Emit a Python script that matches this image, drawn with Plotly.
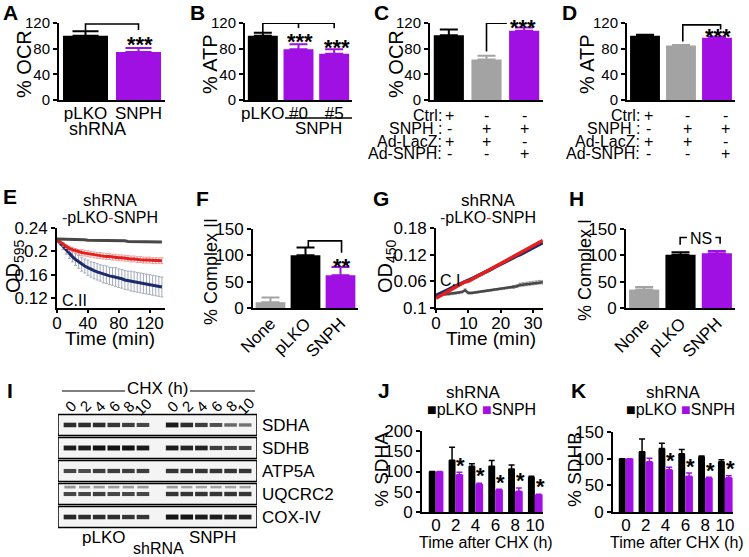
import plotly.graph_objects as go

W, H = 749, 557
FONT = "Liberation Sans, Arial, sans-serif"
BFONT = "Liberation Sans, Arial, sans-serif"
BLK = "#000000"
PUR = "#a010e2"
GRY = "#a3a3a3"
NAVY = "#1d2b6e"
RED = "#e3201b"
DGR = "#474747"

# ---------------- data ----------------
A_labels = ["pLKO", "SNPH"]
A_ocr = [100, 75]
A_err = [7, 6]

B_labels = ["pLKO", "#0", "#5"]
B_atp = [100, 79, 72]
B_err = [5, 8, 7]

C_ocr = [101, 63, 108]
C_err = [9, 6, 5]

D_atp = [100, 85, 97]
D_err = [1.5, 0.8, 1.5]

cond_names = ["Ctrl:", "SNPH :", "Ad-LacZ:", "Ad-SNPH:"]
cond_signs = [["+", "-", "-"], ["-", "+", "+"], ["+", "+", "-"], ["-", "-", "+"]]

E_time = [0, 4, 8, 12, 16, 20, 24, 28, 32, 36, 40, 44, 48, 52, 56, 60, 64, 68, 72, 76,
          80, 84, 88, 92, 96, 100, 104, 108, 112, 116, 120, 124, 128, 132, 136]
E_plko = [0.220, 0.214, 0.208, 0.202, 0.196, 0.191, 0.186, 0.182, 0.178, 0.175,
          0.172, 0.169, 0.167, 0.165, 0.163, 0.161, 0.160, 0.158, 0.157, 0.156,
          0.154, 0.153, 0.151, 0.150, 0.149, 0.148, 0.147, 0.146, 0.145, 0.144,
          0.143, 0.142, 0.141, 0.140, 0.139]
E_plko_err = [0.0, 0.003, 0.005, 0.007, 0.008, 0.009, 0.010, 0.011, 0.012, 0.012,
              0.013, 0.013, 0.014, 0.014, 0.014, 0.015, 0.015, 0.015, 0.015, 0.016,
              0.016, 0.016, 0.016, 0.016, 0.017, 0.017, 0.017, 0.017, 0.017, 0.017,
              0.017, 0.017, 0.017, 0.017, 0.017]
E_snph = [0.220, 0.216, 0.212, 0.208, 0.205, 0.203, 0.201, 0.199, 0.198, 0.197,
          0.196, 0.195, 0.194, 0.193, 0.193, 0.192, 0.191, 0.191, 0.190, 0.190,
          0.189, 0.189, 0.188, 0.188, 0.187, 0.187, 0.186, 0.186, 0.185, 0.185,
          0.185, 0.184, 0.184, 0.184, 0.184]
E_snph_err = [0.0, 0.002, 0.003, 0.003, 0.004, 0.004, 0.004, 0.004, 0.005, 0.005,
              0.005, 0.005, 0.005, 0.005, 0.005, 0.005, 0.005, 0.005, 0.005, 0.005,
              0.005, 0.005, 0.005, 0.005, 0.005, 0.005, 0.005, 0.005, 0.005, 0.005,
              0.005, 0.005, 0.005, 0.005, 0.005]
E_none = [0.221, 0.221, 0.221, 0.221, 0.220, 0.220, 0.220, 0.220, 0.220, 0.220,
          0.219, 0.219, 0.219, 0.219, 0.219, 0.219, 0.218, 0.218, 0.218, 0.218,
          0.218, 0.218, 0.218, 0.217, 0.217, 0.217, 0.217, 0.217, 0.217, 0.217,
          0.216, 0.216, 0.216, 0.216, 0.216]

F_labels = ["None", "pLKO", "SNPH"]
F_vals = [11, 100, 62]
F_err = [9, 15, 16]

G_time = [0, 1, 2, 3, 4, 5, 6, 7, 8, 9, 10, 11, 12, 13, 14, 15, 16, 17, 18, 19, 20,
          21, 22, 23, 24, 25, 26, 27, 28, 29, 30, 31, 32, 33]
G_plko = [0.028, 0.031, 0.035, 0.038, 0.042, 0.046, 0.049, 0.053, 0.056, 0.060,
          0.062, 0.065, 0.069, 0.073, 0.076, 0.080, 0.084, 0.087, 0.091, 0.095,
          0.098, 0.102, 0.106, 0.109, 0.113, 0.117, 0.120, 0.124, 0.128, 0.132,
          0.135, 0.139, 0.143, 0.147]
G_snph = [0.022, 0.026, 0.030, 0.034, 0.038, 0.042, 0.046, 0.050, 0.054, 0.059,
          0.060, 0.064, 0.068, 0.072, 0.076, 0.080, 0.084, 0.088, 0.092, 0.096,
          0.100, 0.103, 0.107, 0.111, 0.115, 0.119, 0.123, 0.127, 0.131, 0.135,
          0.139, 0.143, 0.147, 0.152]
G_none = [0.028, 0.029, 0.030, 0.031, 0.031, 0.032, 0.033, 0.034, 0.036, 0.040,
          0.034, 0.034, 0.035, 0.036, 0.037, 0.038, 0.039, 0.040, 0.041, 0.042,
          0.043, 0.044, 0.045, 0.046, 0.047, 0.049, 0.052, 0.053, 0.054, 0.055,
          0.056, 0.057, 0.058, 0.058]
G_none_err = [0.002, 0.002, 0.002, 0.002, 0.002, 0.002, 0.002, 0.002, 0.002, 0.003,
              0.002, 0.002, 0.002, 0.002, 0.002, 0.002, 0.002, 0.002, 0.002, 0.002,
              0.002, 0.002, 0.002, 0.002, 0.003, 0.003, 0.004, 0.004, 0.004, 0.004,
              0.004, 0.004, 0.004, 0.004]

H_vals = [35, 101, 104]
H_err = [5, 5, 4]

blot_lanes = ["0", "2", "4", "6", "8", "10", "0", "2", "4", "6", "8", "10"]
blot_proteins = ["SDHA", "SDHB", "ATP5A", "UQCRC2", "COX-IV"]
blot_SDHA = [0.85, 0.85, 0.85, 0.80, 0.75, 0.70, 0.95, 0.85, 0.75, 0.65, 0.50, 0.45]
blot_SDHB = [0.95, 0.95, 1.00, 1.00, 1.00, 0.95, 0.95, 0.90, 0.90, 0.75, 0.70, 0.70]
blot_ATP5A = [0.70, 0.65, 0.75, 0.75, 0.75, 0.75, 0.80, 0.80, 0.80, 0.80, 0.80, 0.80]
blot_UQCRC2 = [0.70, 0.70, 0.75, 0.70, 0.70, 0.70, 0.80, 0.80, 0.80, 0.80, 0.80, 0.80]
blot_UQCRC2_upper = [0.25, 0.20, 0.20, 0.20, 0.20, 0.20, 0.20, 0.15, 0.15, 0.15, 0.15, 0.15]
blot_COXIV = [0.90, 0.85, 0.85, 0.85, 0.80, 0.80, 1.00, 1.00, 0.95, 0.95, 0.90, 0.90]

J_hours = [0, 2, 4, 6, 8, 10]
J_plko = [100, 128, 113, 113, 106, 86]
J_plko_err = [0, 32, 6, 14, 10, 2]
J_snph = [100, 92, 69, 55, 51, 43]
J_snph_err = [0, 6, 2, 1, 8, 1]
J_sig = ["", "*", "*", "*", "*", "*"]

K_plko = [100, 113, 119, 109, 104, 94]
K_plko_err = [0, 24, 10, 8, 1, 4]
K_snph = [100, 94, 79, 67, 64, 64]
K_snph_err = [0, 7, 5, 6, 1, 4]
K_sig = ["", "", "*", "*", "*", "*"]

# ---------------- helpers ----------------
fig = go.Figure()
layout_axes = {}
annots = []
shapes = []


def px(x):
    return x / W


def py(y):
    return 1 - y / H


def new_axes(n, xdom, ydom, xr, yr, xkw=None, ykw=None, tsize=16):
    sfx = "" if n == 1 else str(n)
    base = dict(showline=True, linecolor=BLK, linewidth=2, showgrid=False,
                zeroline=False, fixedrange=True, automargin=False,
                tickfont=dict(family=FONT, size=tsize, color=BLK))
    xa = dict(base, domain=[px(xdom[0]), px(xdom[1])], range=xr, anchor="y" + sfx,
              ticks="", tickangle=0, ticklabelstandoff=-3)
    ya = dict(base, domain=[py(ydom[1]), py(ydom[0])], range=yr, anchor="x" + sfx,
              ticks="outside", ticklen=4, tickwidth=2, tickcolor=BLK)
    if xkw:
        xa.update(xkw)
    if ykw:
        ya.update(ykw)
    layout_axes["xaxis" + sfx] = xa
    layout_axes["yaxis" + sfx] = ya
    return "x" + sfx, "y" + sfx


def text(x, y, s, size=17, xanchor="center", yanchor="middle", angle=0, bold=False,
         xref="paper", yref="paper", color=BLK, family=FONT):
    if bold:
        s = "<b>" + s + "</b>"
    annots.append(dict(x=px(x) if xref == "paper" else x,
                       y=py(y) if yref == "paper" else y,
                       xref=xref, yref=yref, text=s, showarrow=False,
                       xanchor=xanchor, yanchor=yanchor, textangle=angle,
                       font=dict(family=family, size=size, color=color)))


def letter(x, y, s):
    text(x, y, s, size=21, bold=True, family=BFONT)


def stars(x, y, s):
    text(x, y, s, size=22, bold=True, family=BFONT)


def bars(xa, ya, vals, errs, colors, width, capw):
    for i, (v, e, c) in enumerate(zip(vals, errs, colors)):
        fig.add_trace(go.Bar(x=[i], y=[v], width=width, marker=dict(color=c, line=dict(width=0)),
                             error_y=dict(type="data", symmetric=False, array=[e], arrayminus=[0],
                                          color=c, thickness=2, width=capw),
                             xaxis=xa, yaxis=ya, hoverinfo="skip"))


def bracket(xa, ya, xs, ys):
    fig.add_trace(go.Scatter(x=xs, y=ys, mode="lines", line=dict(color=BLK, width=1.6),
                             xaxis=xa, yaxis=ya, hoverinfo="skip", cliponaxis=False))


ytick120 = dict(tickvals=[0, 40, 80, 120])
cat_font = dict(family=FONT, size=17, color=BLK)

# ---------------- A ----------------
xa, ya = new_axes(1, (59, 165), (23, 100), [-0.5, 1.5], [0, 120],
                  dict(tickvals=[0, 1], ticktext=A_labels, tickfont=cat_font), ytick120, tsize=15)
bars(xa, ya, A_ocr, A_err, [BLK, PUR], 0.85, 13)
bracket(xa, ya, [0, 0, 1, 1], [108, 118.4, 118.4, 109])
stars(140, 45, "***")
letter(10, 12, "A")
text(24, 64, "% OCR", size=20, angle=-90)
text(97, 129, "shRNA", size=18)

# ---------------- B ----------------
xa, ya = new_axes(2, (245, 352), (23, 100), [-0.5, 2.5], [0, 120],
                  dict(tickvals=[0, 1, 2], ticktext=B_labels, tickfont=cat_font), ytick120, tsize=15)
bars(xa, ya, B_atp, B_err, [BLK, PUR, PUR], 0.84, 9)
bracket(xa, ya, [0, 0, 2, 2, None, 1, 1], [106, 119.5, 119.5, 112, None, 119.5, 112])
stars(300, 41, "***")
stars(337, 47, "***")
letter(197, 12, "B")
text(210, 64, "% ATP", size=20, angle=-90)
shapes.append(dict(type="line", xref="paper", yref="paper", x0=px(285), x1=px(352),
                   y0=py(118), y1=py(118), line=dict(color=BLK, width=1.6)))
text(318, 128, "SNPH", size=17)

# ---------------- C ----------------
xa, ya = new_axes(3, (430, 543), (23, 100), [-0.5, 2.5], [0, 120],
                  dict(showticklabels=False), ytick120, tsize=15)
bars(xa, ya, C_ocr, C_err, [BLK, GRY, PUR], 0.8, 9)
bracket(xa, ya, [1, 1, 1.54], [75.5, 119.5, 119.5])
stars(523, 27, "***")
letter(381, 12, "C")
text(396, 64, "% OCR", size=20, angle=-90)

# ---------------- D ----------------
xa, ya = new_axes(4, (627, 735), (23, 100), [-0.5, 2.5], [0, 120],
                  dict(showticklabels=False), ytick120, tsize=15)
bars(xa, ya, D_atp, D_err, [BLK, GRY, PUR], 0.83, 9)
bracket(xa, ya, [1.05, 1.05, 2.1, 2.1], [91, 117, 117, 110])
stars(718, 37, "***")
letter(569, 12, "D")
text(587, 64, "% ATP", size=20, angle=-90)

# condition tables for C and D
row_y = [115, 128, 141, 153]
for lab_x, cols in [(444, [449, 486, 524]), (642, [648, 687, 725])]:
    for r, name in enumerate(cond_names):
        text(lab_x, row_y[r], name, size=16, xanchor="right")
        for c, s in enumerate(cond_signs[r]):
            text(cols[c], row_y[r], s, size=16)

# ---------------- E ----------------
xa, ya = new_axes(5, (57, 165), (228, 308), [0, 140], [0.103, 0.24],
                  dict(tickvals=[0, 40, 80, 120], ticks="outside", ticklen=3, tickwidth=2, tickcolor=BLK,
                       ticklabelstandoff=-4),
                  dict(tickvals=[0.12, 0.16, 0.2, 0.24], ticktext=["0.12", "0.16", "0.2", "0.24"]),
                  tsize=17)
fig.add_trace(go.Scatter(x=E_time, y=E_plko, mode="lines", line=dict(color=NAVY, width=3),
                         error_y=dict(type="data", array=E_plko_err, color="#a3abb9", thickness=1, width=1.5),
                         xaxis=xa, yaxis=ya, hoverinfo="skip"))
fig.add_trace(go.Scatter(x=E_time, y=E_snph, mode="lines", line=dict(color=RED, width=3),
                         error_y=dict(type="data", array=E_snph_err, color="#f29a9a", thickness=1, width=1.5),
                         xaxis=xa, yaxis=ya, hoverinfo="skip"))
fig.add_trace(go.Scatter(x=E_time, y=E_none, mode="lines", line=dict(color=DGR, width=3),
                         xaxis=xa, yaxis=ya, hoverinfo="skip"))
letter(10, 196, "E")
text(110, 200, "shRNA", size=17)
text(110, 218, f'<span style="color:{NAVY}">-</span>pLKO<span style="color:{RED}">-</span>SNPH', size=16)
text(14, 266, "OD<sub>595</sub>", size=20, angle=-90)
text(74, 300, "C.II", size=16)
text(110, 338, "Time (min)", size=19)

# ---------------- F ----------------
xa, ya = new_axes(6, (253, 358), (229, 308), [-0.5, 2.5], [0, 150],
                  dict(tickvals=[0, 1, 2], ticktext=F_labels, tickangle=-45, tickfont=cat_font),
                  dict(tickvals=[0, 50, 100, 150]), tsize=17)
bars(xa, ya, F_vals, F_err, [GRY, BLK, PUR], 0.85, 9)
bracket(xa, ya, [1.08, 1.08, 2.03, 2.03], [115, 127.5, 127.5, 105])
stars(342, 266, "**")
letter(202, 198, "F")
text(211, 272, "% Complex II", size=18, angle=-90)

# ---------------- G ----------------
xa, ya = new_axes(7, (436, 543), (228, 308), [0, 33.1], [0, 0.18],
                  dict(tickvals=[0, 10, 20, 30], ticks="outside", ticklen=3, tickwidth=2, tickcolor=BLK,
                       ticklabelstandoff=-4),
                  dict(tickvals=[0, 0.06, 0.12, 0.18], ticktext=["0.1", "0.06", "0.12", "0.18"]),
                  tsize=17)
fig.add_trace(go.Scatter(x=G_time, y=G_none, mode="lines", line=dict(color=DGR, width=2.5),
                         error_y=dict(type="data", array=G_none_err, color="#9a9a9a", thickness=1, width=1.5),
                         xaxis=xa, yaxis=ya, hoverinfo="skip"))
fig.add_trace(go.Scatter(x=G_time, y=G_plko, mode="lines", line=dict(color=NAVY, width=3.5),
                         xaxis=xa, yaxis=ya, hoverinfo="skip"))
fig.add_trace(go.Scatter(x=G_time, y=G_snph, mode="lines", line=dict(color=RED, width=3.5),
                         xaxis=xa, yaxis=ya, hoverinfo="skip"))
letter(381, 198, "G")
text(489, 200, "shRNA", size=17)
text(488, 218, f'<span style="color:{NAVY}">-</span>pLKO<span style="color:{RED}">-</span>SNPH', size=16)
text(386, 266, "OD<sub>450</sub>", size=20, angle=-90)
text(450, 280, "C.I", size=16)
text(491, 338, "Time (min)", size=19)

# ---------------- H ----------------
xa, ya = new_axes(8, (626, 735), (229, 308), [-0.5, 2.5], [0, 150],
                  dict(tickvals=[0, 1, 2], ticktext=F_labels, tickangle=-45, tickfont=cat_font),
                  dict(tickvals=[0, 50, 100, 150]), tsize=17)
bars(xa, ya, H_vals, H_err, [GRY, BLK, PUR], 0.83, 9)
bracket(xa, ya, [0.99, 0.99, 1.18, None, 1.96, 2.09, 2.09], [120, 134, 134, None, 134, 134, 122])
text(701, 238, "NS", size=16)
letter(576, 198, "H")
text(585, 270, "% Complex I", size=18, angle=-90)

# ---------------- I (blot) ----------------
lane_pos = [0, 1, 2, 3, 4, 5, 7, 8, 9, 10, 11, 12]
xa, ya = new_axes(9, (58, 257), (413, 529), [-0.82, 12.81], [4.52, -0.52],
                  dict(showline=False, showticklabels=False),
                  dict(showline=False, showticklabels=False, ticks=""))
rows = [blot_SDHA, blot_SDHB, blot_ATP5A, blot_UQCRC2, blot_COXIV]
for r in range(5):
    shapes.append(dict(type="rect", xref=xa, yref=ya, x0=-0.82, x1=12.81, y0=r - 0.46, y1=r + 0.46,
                       line=dict(color=BLK, width=1.5), fillcolor="#f4f4f4", layer="below"))


def band_trace(inten, yrow, size):
    cols = [f"rgb({int(20 + 170 * (1 - v))},{int(20 + 170 * (1 - v))},{int(20 + 170 * (1 - v))})" for v in inten]
    fig.add_trace(go.Scatter(x=lane_pos, y=[yrow] * len(lane_pos), mode="markers",
                             marker=dict(symbol="line-ew", size=size,
                                         line=dict(color=cols, width=[2.0 + 3.0 * v for v in inten])),
                             xaxis=xa, yaxis=ya, hoverinfo="skip"))


for r, inten in enumerate(rows):
    band_trace(inten, r, 9)
band_trace(blot_UQCRC2_upper, 3 - 0.3, 8)

for r, name in enumerate(blot_proteins):
    text(260, 425 + 23 * r, name, size=17, xanchor="left")
for i, lab in enumerate(blot_lanes):
    annots.append(dict(x=lane_pos[i], y=py(406), xref=xa, yref="paper", text=lab, showarrow=False,
                       textangle=-45, yanchor="middle", font=dict(family=FONT, size=15, color=BLK)))
shapes.append(dict(type="line", xref="paper", yref="paper", x0=px(62), x1=px(125), y0=py(391), y1=py(391),
                   line=dict(color=BLK, width=1.2)))
shapes.append(dict(type="line", xref="paper", yref="paper", x0=px(190), x1=px(255), y0=py(391), y1=py(391),
                   line=dict(color=BLK, width=1.2)))
text(157, 388, "CHX (h)", size=17)
text(103, 537, "pLKO", size=17)
text(158, 548, "shRNA", size=16)
text(212, 537, "SNPH", size=17)
letter(10, 390, "I")


# ---------------- J / K ----------------
def timecourse(n, xdom, ydom, xr, yr, ytv, plko, plko_e, snph, snph_e, sig, star_dy):
    xa, ya = new_axes(n, xdom, ydom, xr, yr,
                      dict(tickvals=J_hours, ticktext=[str(h) for h in J_hours]),
                      dict(tickvals=ytv), tsize=17)
    fig.add_trace(go.Bar(x=J_hours, y=plko, width=0.7, offset=-0.72, marker=dict(color=BLK, line=dict(width=0)),
                         error_y=dict(type="data", symmetric=False, array=plko_e, arrayminus=[0] * 6,
                                      color=BLK, thickness=1.5, width=3),
                         xaxis=xa, yaxis=ya, hoverinfo="skip"))
    fig.add_trace(go.Bar(x=J_hours, y=snph, width=0.78, offset=-0.02, marker=dict(color=PUR, line=dict(width=0)),
                         error_y=dict(type="data", symmetric=False, array=snph_e, arrayminus=[0] * 6,
                                      color=PUR, thickness=1.5, width=3),
                         xaxis=xa, yaxis=ya, hoverinfo="skip"))
    for h, v, e, s in zip(J_hours, snph, snph_e, sig):
        if s:
            annots.append(dict(x=h + 0.5, y=v + e + star_dy, xref=xa, yref=ya, text="<b>*</b>",
                               showarrow=False, font=dict(family=BFONT, size=22, color=BLK)))
    return xa, ya


timecourse(10, (422, 543), (431, 512), [-1.4, 10.8], [0, 200], [0, 50, 100, 150, 200],
           J_plko, J_plko_err, J_snph, J_snph_err, J_sig, 18)
letter(384, 390, "J")
text(473, 392, "shRNA", size=17)
text(481, 409, f'<span style="color:{BLK}">■</span>pLKO <span style="color:{PUR}">■</span>SNPH', size=16)
text(381, 470, "% SDHA", size=19, angle=-90)
text(486, 542, "Time after CHX (h)", size=16)

timecourse(11, (613, 733), (432, 512), [-1.3, 10.8], [0, 150], [0, 50, 100, 150],
           K_plko, K_plko_err, K_snph, K_snph_err, K_sig, 13)
letter(578, 390, "K")
text(673, 392, "shRNA", size=17)
text(680, 409, f'<span style="color:{BLK}">■</span>pLKO <span style="color:{PUR}">■</span>SNPH', size=16)
text(574, 470, "% SDHB", size=19, angle=-90)
text(677, 542, "Time after CHX (h)", size=16)

fig.update_layout(template="none", width=W, height=H, margin=dict(l=0, r=0, t=0, b=0, pad=0),
                  paper_bgcolor="white", plot_bgcolor="white", showlegend=False,
                  barmode="overlay", annotations=annots, shapes=shapes,
                  font=dict(family=FONT, size=16, color=BLK), **layout_axes)

fig.write_html("out.html", config={"displayModeBar": False},
               post_script="document.body.style.margin='0px';document.body.style.overflow='hidden';")
